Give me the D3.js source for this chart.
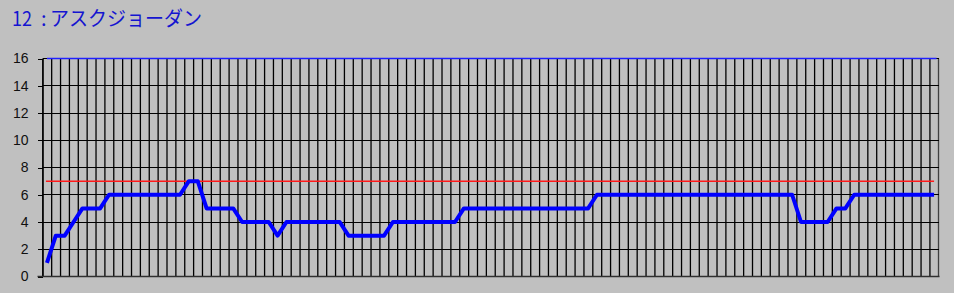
<!DOCTYPE html>
<html>
<head>
<meta charset="utf-8">
<script src="https://cdn.jsdelivr.net/npm/d3@7"></script>
<style>
  html, body { margin: 0; padding: 0; background: #c0c0c0; }
  svg { display: block; }
</style>
</head>
<body>
<svg id="chart"></svg>
<script>
// horse and the plotted series
const horseNo = 12;
const horseName = "アスクジョーダン";
const values = [
  1, 3, 3, 4, 5, 5, 5,
  6, 6, 6, 6, 6, 6, 6, 6, 6,
  7, 7,
  5, 5, 5, 5,
  4, 4, 4, 4,
  3,
  4, 4, 4, 4, 4, 4, 4,
  3, 3, 3, 3, 3,
  4, 4, 4, 4, 4, 4, 4, 4,
  5, 5, 5, 5, 5, 5, 5, 5, 5, 5, 5, 5, 5, 5, 5,
  6, 6, 6, 6, 6, 6, 6, 6, 6, 6, 6, 6, 6, 6, 6, 6, 6, 6, 6, 6, 6, 6, 6,
  4, 4, 4, 4,
  5, 5,
  6, 6, 6, 6, 6, 6, 6, 6, 6, 6
];
const refLevel = 7;     // red line
const topLevel = 16;    // blue line along the top
const yTicks = [0, 2, 4, 6, 8, 10, 12, 14, 16];

const W = 954, H = 293;
const plotL = 42.5, plotR = 938.5, plotT = 58.5, plotB = 276.5;

const svg = d3.select("#chart")
    .attr("width", W)
    .attr("height", H);

// title: number, colon, name
const title = svg.append("text")
    .attr("y", 26)
    .style("font-family", "'Noto Sans CJK JP', sans-serif")
    .style("font-size", "20px")
    .attr("fill", "#1414d0");
title.append("tspan").attr("x", 12).attr("textLength", 20).attr("lengthAdjust", "spacingAndGlyphs").text(horseNo);
title.append("tspan").attr("x", 41).text(":");
title.append("tspan").attr("x", 50).attr("textLength", 152).attr("lengthAdjust", "spacingAndGlyphs").text(horseName);

const x = d3.scaleBand()
    .domain(d3.range(values.length))
    .range([plotL, plotR])
    .padding(0);

const cx = i => x(i) + x.bandwidth() / 2;

const y = d3.scaleLinear()
    .domain([0, 16])
    .range([plotB, plotT]);

const px = v => Math.round(v - 0.5) + 0.5;

// vertical grid, one per band
const grid = svg.append("g")
    .attr("stroke", "#000");

grid.selectAll("line.v")
    .data(d3.range(values.length + 1))
    .enter().append("line")
    .attr("class", "v")
    .attr("x1", i => i < values.length ? x(i) + 0.3 : plotR)
    .attr("x2", i => i < values.length ? x(i) + 0.3 : plotR)
    .attr("y1", plotT)
    .attr("y2", plotB)
    .attr("stroke-width", 1.3)
    .attr("stroke", i => i === values.length ? "#404040" : "#000");

grid.selectAll("line.h")
    .data(yTicks.slice(1))
    .enter().append("line")
    .attr("class", "h")
    .attr("x1", plotL)
    .attr("x2", plotR)
    .attr("y1", d => px(y(d)))
    .attr("y2", d => px(y(d)))
    .attr("stroke-width", 1)
    .attr("shape-rendering", "crispEdges");

// y axis
const yAxis = svg.append("g")
    .attr("transform", `translate(${plotL},0)`)
    .call(d3.axisLeft(y).tickValues(yTicks).tickSize(5).tickPadding(9).tickSizeOuter(0));

yAxis.select(".domain").attr("stroke", "#000").attr("stroke-width", 1.3);
yAxis.selectAll(".tick line").attr("stroke", "#000").attr("shape-rendering", "crispEdges");
yAxis.selectAll(".tick text")
    .attr("fill", "#101010")
    .style("font-family", "'Liberation Sans', Arial, sans-serif")
    .style("font-size", "14px");

// bottom axis line
svg.append("line")
    .attr("x1", plotL - 5)
    .attr("x2", plotR + 1)
    .attr("y1", px(y(0)))
    .attr("y2", px(y(0)))
    .attr("stroke", "#303030")
    .attr("stroke-width", 1.3);

// top blue line and red reference line
svg.append("line")
    .attr("x1", cx(0))
    .attr("x2", cx(values.length - 1) + 2.5)
    .attr("y1", px(y(topLevel)))
    .attr("y2", px(y(topLevel)))
    .attr("stroke", "#2020ff")
    .attr("stroke-width", 1.3);

svg.append("line")
    .attr("class", "ref")
    .attr("x1", cx(0) - 1)
    .attr("x2", cx(values.length - 1))
    .attr("y1", y(refLevel))
    .attr("y2", y(refLevel))
    .attr("stroke", "#ff1a1a")
    .attr("stroke-width", 1.5);

// main series
const line = d3.line()
    .x((d, i) => cx(i))
    .y(d => y(d));

svg.append("path")
    .datum(values)
    .attr("fill", "none")
    .attr("stroke", "#0000ff")
    .attr("stroke-width", 4)
    .attr("stroke-linejoin", "round")
    .attr("d", line);
</script>
</body>
</html>
